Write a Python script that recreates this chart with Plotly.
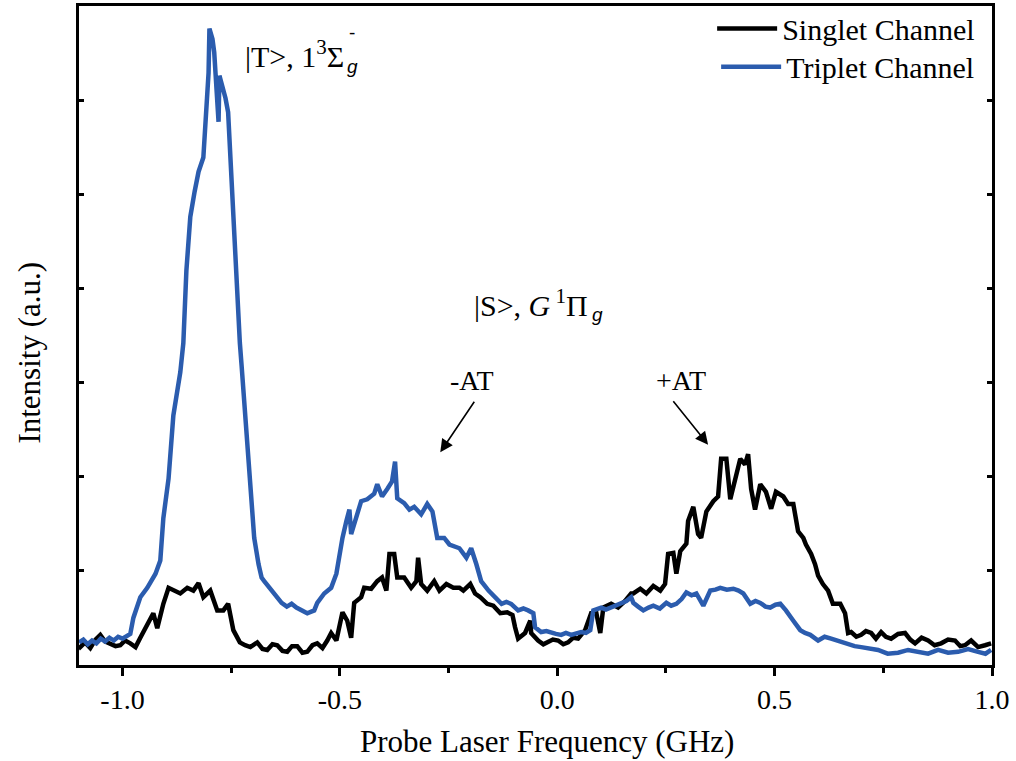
import plotly.graph_objects as go

# ---------------- data ----------------
triplet_x = [-1.100, -1.090, -1.080, -1.070, -1.060, -1.050, -1.040, -1.030, -1.020, -1.010,
             -1.000, -0.990, -0.982, -0.975, -0.959, -0.943, -0.924, -0.913, -0.906, -0.894,
             -0.883, -0.867, -0.860, -0.853, -0.844, -0.834, -0.825, -0.814, -0.809, -0.802,
             -0.800, -0.793, -0.789, -0.779, -0.777, -0.768, -0.763, -0.757, -0.749, -0.741,
             -0.730, -0.726, -0.710, -0.703, -0.697, -0.687, -0.680, -0.674, -0.662, -0.651,
             -0.642, -0.634, -0.622, -0.611, -0.600, -0.589, -0.575, -0.559, -0.552, -0.536,
             -0.520, -0.508, -0.501, -0.494, -0.485, -0.478, -0.474, -0.462, -0.451, -0.437,
             -0.421, -0.414, -0.403, -0.391, -0.380, -0.373, -0.368, -0.352, -0.340, -0.329,
             -0.313, -0.299, -0.287, -0.276, -0.260, -0.248, -0.236, -0.225, -0.209, -0.198,
             -0.186, -0.175, -0.158, -0.142, -0.128, -0.117, -0.106, -0.090, -0.078, -0.067,
             -0.055, -0.051, -0.037, -0.025, -0.014, -0.003, 0.009, 0.020, 0.032, 0.044,
             0.055, 0.066, 0.076, 0.083, 0.101, 0.112, 0.124, 0.136, 0.147, 0.159,
             0.170, 0.175, 0.186, 0.198, 0.210, 0.221, 0.236, 0.251, 0.262, 0.274,
             0.286, 0.297, 0.309, 0.320, 0.336, 0.352, 0.364, 0.375, 0.390, 0.405,
             0.417, 0.428, 0.444, 0.456, 0.467, 0.479, 0.490, 0.502, 0.513, 0.526,
             0.543, 0.559, 0.570, 0.582, 0.600, 0.615, 0.630, 0.650, 0.669, 0.684,
             0.699, 0.718, 0.738, 0.760, 0.784, 0.807, 0.830, 0.853, 0.876, 0.899,
             0.922, 0.945, 0.968, 0.985, 0.998]
triplet_y = [0.24, 0.27, 0.22, 0.26, 0.23, 0.28, 0.25, 0.29, 0.26, 0.30,
             0.28, 0.31, 0.33, 0.50, 0.72, 0.82, 0.97, 1.11, 1.56, 1.98,
             2.65, 3.11, 3.42, 4.19, 4.76, 5.03, 5.24, 5.39, 5.84, 6.29,
             6.76, 6.65, 6.51, 5.77, 6.26, 6.13, 6.02, 5.87, 5.14, 4.19,
             3.42, 3.18, 2.16, 1.71, 1.35, 1.07, 0.93, 0.89, 0.82, 0.76,
             0.70, 0.66, 0.62, 0.65, 0.61, 0.58, 0.55, 0.58, 0.66, 0.76,
             0.82, 0.97, 1.18, 1.35, 1.53, 1.65, 1.39, 1.56, 1.74, 1.76,
             1.82, 1.92, 1.79, 1.87, 1.95, 2.16, 1.77, 1.72, 1.65, 1.68,
             1.60, 1.71, 1.63, 1.35, 1.35, 1.28, 1.26, 1.24, 1.14, 1.24,
             1.07, 0.89, 0.79, 0.72, 0.65, 0.67, 0.65, 0.58, 0.60, 0.58,
             0.55, 0.40, 0.35, 0.36, 0.34, 0.33, 0.32, 0.34, 0.32, 0.33,
             0.35, 0.34, 0.37, 0.58, 0.61, 0.59, 0.61, 0.63, 0.65, 0.68,
             0.72, 0.66, 0.62, 0.58, 0.61, 0.63, 0.60, 0.66, 0.63, 0.65,
             0.70, 0.77, 0.74, 0.76, 0.63, 0.79, 0.80, 0.82, 0.80, 0.81,
             0.79, 0.76, 0.65, 0.68, 0.66, 0.62, 0.61, 0.64, 0.65, 0.58,
             0.47, 0.37, 0.34, 0.32, 0.26, 0.30, 0.28, 0.25, 0.23, 0.20,
             0.19, 0.17, 0.16, 0.12, 0.13, 0.16, 0.14, 0.12, 0.16, 0.13,
             0.14, 0.17, 0.14, 0.12, 0.16]

singlet_x = [-1.100, -1.097, -1.086, -1.074, -1.062, -1.051, -1.040, -1.028, -1.016, -1.005,
             -0.994, -0.982, -0.970, -0.959, -0.943, -0.929, -0.920, -0.906, -0.894, -0.883,
             -0.867, -0.851, -0.837, -0.825, -0.814, -0.798, -0.782, -0.768, -0.757, -0.745,
             -0.730, -0.718, -0.706, -0.690, -0.678, -0.667, -0.655, -0.644, -0.632, -0.621,
             -0.610, -0.598, -0.586, -0.575, -0.563, -0.552, -0.540, -0.529, -0.520, -0.508,
             -0.494, -0.483, -0.474, -0.467, -0.451, -0.444, -0.428, -0.414, -0.403, -0.393,
             -0.386, -0.375, -0.368, -0.352, -0.336, -0.324, -0.320, -0.313, -0.299, -0.283,
             -0.271, -0.255, -0.239, -0.225, -0.216, -0.200, -0.189, -0.177, -0.161, -0.147,
             -0.131, -0.115, -0.103, -0.097, -0.090, -0.074, -0.062, -0.060, -0.044, -0.032,
             -0.021, -0.010, 0.002, 0.014, 0.025, 0.037, 0.048, 0.064, 0.078, 0.090,
             0.099, 0.106, 0.124, 0.140, 0.156, 0.170, 0.175, 0.191, 0.205, 0.221,
             0.237, 0.248, 0.255, 0.267, 0.274, 0.283, 0.297, 0.301, 0.313, 0.324,
             0.331, 0.343, 0.359, 0.370, 0.377, 0.389, 0.398, 0.409, 0.421, 0.432,
             0.439, 0.446, 0.455, 0.467, 0.480, 0.492, 0.503, 0.520, 0.531, 0.543,
             0.554, 0.566, 0.572, 0.584, 0.593, 0.600, 0.611, 0.623, 0.634, 0.651,
             0.662, 0.669, 0.676, 0.688, 0.699, 0.710, 0.722, 0.733, 0.745, 0.756,
             0.768, 0.784, 0.800, 0.812, 0.823, 0.838, 0.853, 0.868, 0.883, 0.899,
             0.915, 0.927, 0.938, 0.952, 0.968, 0.984, 0.998]
singlet_y = [0.21, 0.19, 0.24, 0.18, 0.27, 0.32, 0.25, 0.23, 0.20, 0.21,
             0.26, 0.23, 0.19, 0.29, 0.44, 0.55, 0.39, 0.65, 0.82, 0.79,
             0.76, 0.82, 0.79, 0.87, 0.72, 0.79, 0.58, 0.58, 0.65, 0.37,
             0.24, 0.21, 0.19, 0.24, 0.17, 0.16, 0.22, 0.21, 0.15, 0.14,
             0.20, 0.20, 0.13, 0.14, 0.21, 0.23, 0.18, 0.26, 0.34, 0.26,
             0.56, 0.47, 0.29, 0.66, 0.72, 0.82, 0.81, 0.89, 0.93, 0.79,
             1.18, 1.18, 0.93, 0.93, 0.82, 0.89, 1.14, 0.86, 0.79, 0.89,
             0.79, 0.86, 0.82, 0.82, 0.79, 0.86, 0.76, 0.72, 0.65, 0.63,
             0.55, 0.56, 0.53, 0.40, 0.28, 0.34, 0.47, 0.34, 0.26, 0.22,
             0.24, 0.27, 0.26, 0.22, 0.24, 0.29, 0.28, 0.37, 0.55, 0.55,
             0.34, 0.61, 0.65, 0.61, 0.68, 0.76, 0.76, 0.81, 0.76, 0.84,
             0.79, 0.86, 1.18, 1.19, 0.97, 1.21, 1.29, 1.53, 1.68, 1.39,
             1.35, 1.63, 1.74, 1.79, 2.19, 2.19, 1.76, 1.95, 2.19, 2.13,
             2.24, 1.87, 1.65, 1.92, 1.84, 1.66, 1.84, 1.79, 1.71, 1.71,
             1.42, 1.35, 1.28, 1.18, 1.07, 0.95, 0.86, 0.79, 0.65, 0.65,
             0.55, 0.34, 0.35, 0.30, 0.32, 0.36, 0.34, 0.28, 0.35, 0.30,
             0.28, 0.33, 0.34, 0.27, 0.23, 0.29, 0.26, 0.21, 0.23, 0.27,
             0.26, 0.20, 0.21, 0.26, 0.19, 0.21, 0.23]

x_tick_vals = [-1.0, -0.5, 0.0, 0.5, 1.0]
x_tick_text = ["-1.0", "-0.5", "0.0", "0.5", "1.0"]
x_minor_vals = [-0.75, -0.25, 0.25, 0.75]
y_tick_vals = [1, 2, 3, 4, 5, 6]

BLUE = "#2b5cae"
SERIF = "Liberation Serif"
SANS = "Liberation Sans"

fig = go.Figure()
fig.add_trace(go.Scatter(x=singlet_x, y=singlet_y, mode="lines", name="Singlet Channel",
                         line=dict(color="black", width=4.5), legend="legend"))
fig.add_trace(go.Scatter(x=triplet_x, y=triplet_y, mode="lines", name="Triplet Channel",
                         line=dict(color=BLUE, width=4.5), legend="legend2"))

ann_font = dict(family=SERIF, size=30, color="black")
small_sans = dict(family=SANS, size=19, color="black")
annotations = [
    dict(x=-0.722, y=6.49, text="|T>, 1<sup>3</sup>Σ", xanchor="left", yanchor="middle",
         showarrow=False, font=ann_font),
    dict(x=-0.488, y=6.36, text="<i>g</i>", xanchor="left", yanchor="middle",
         showarrow=False, font=small_sans),
    dict(x=-0.484, y=6.72, text="-", xanchor="left", yanchor="middle",
         showarrow=False, font=small_sans),
    dict(x=-0.195, y=3.84, text="|S>, <i>G</i><sup> 1</sup>Π", xanchor="left", yanchor="middle",
         showarrow=False, font=ann_font),
    dict(x=0.076, y=3.72, text="<i>g</i>", xanchor="left", yanchor="middle",
         showarrow=False, font=small_sans),
    dict(x=-0.195, y=3.02, text="-AT", xanchor="center", yanchor="middle",
         showarrow=False, font=dict(family=SERIF, size=28, color="black")),
    dict(x=0.285, y=3.02, text="+AT", xanchor="center", yanchor="middle",
         showarrow=False, font=dict(family=SERIF, size=28, color="black")),
    dict(x=-0.269, y=2.26, ax=35, ay=-52, text="", showarrow=True, arrowhead=2,
         arrowsize=1.6, arrowwidth=1.6, arrowcolor="black"),
    dict(x=0.347, y=2.34, ax=-36, ay=-45, text="", showarrow=True, arrowhead=2,
         arrowsize=1.6, arrowwidth=1.6, arrowcolor="black"),
    # axis titles (placed as annotations to match the reference offsets)
    dict(xref="paper", yref="paper", x=0.5126, y=-0.116, text="Probe Laser Frequency (GHz)",
         xanchor="center", yanchor="middle", showarrow=False,
         font=dict(family=SERIF, size=31, color="black")),
    dict(xref="paper", yref="paper", x=-0.0537, y=0.474, text="Intensity (a.u.)",
         textangle=-90, xanchor="center", yanchor="middle", showarrow=False,
         font=dict(family=SERIF, size=31, color="black")),
]

leg_common = dict(xanchor="right", yanchor="middle", bgcolor="rgba(0,0,0,0)",
                  font=dict(family=SERIF, size=30, color="black"), itemwidth=60)

fig.update_layout(
    width=1016, height=761,
    margin=dict(l=79, r=24, t=2, b=96),
    paper_bgcolor="white", plot_bgcolor="white",
    font=dict(family=SERIF, size=28, color="black"),
    showlegend=True,
    legend=dict(x=0.987, y=0.966, **leg_common),
    legend2=dict(x=0.987, y=0.908, **leg_common),
    annotations=annotations,
)
fig.update_xaxes(
    range=[-1.1, 1.0], showgrid=False, zeroline=False,
    showline=True, linecolor="black", linewidth=2.5, mirror=True,
    ticks="outside", ticklen=8, tickwidth=2.5, tickcolor="black",
    tickmode="array", tickvals=x_tick_vals, ticktext=x_tick_text,
    tickfont=dict(family=SERIF, size=28),
    minor=dict(tickmode="array", tickvals=x_minor_vals, ticks="outside", ticklen=5,
               tickwidth=2.5, tickcolor="black"),
    automargin=False,
)
fig.update_yaxes(
    range=[0, 7], showgrid=False, zeroline=False,
    showline=True, linecolor="black", linewidth=2.5, mirror="ticks",
    ticks="inside", ticklen=5, tickwidth=2.5, tickcolor="black",
    tickmode="array", tickvals=y_tick_vals, showticklabels=False,
    automargin=False,
)

fig.write_html("out.html")
